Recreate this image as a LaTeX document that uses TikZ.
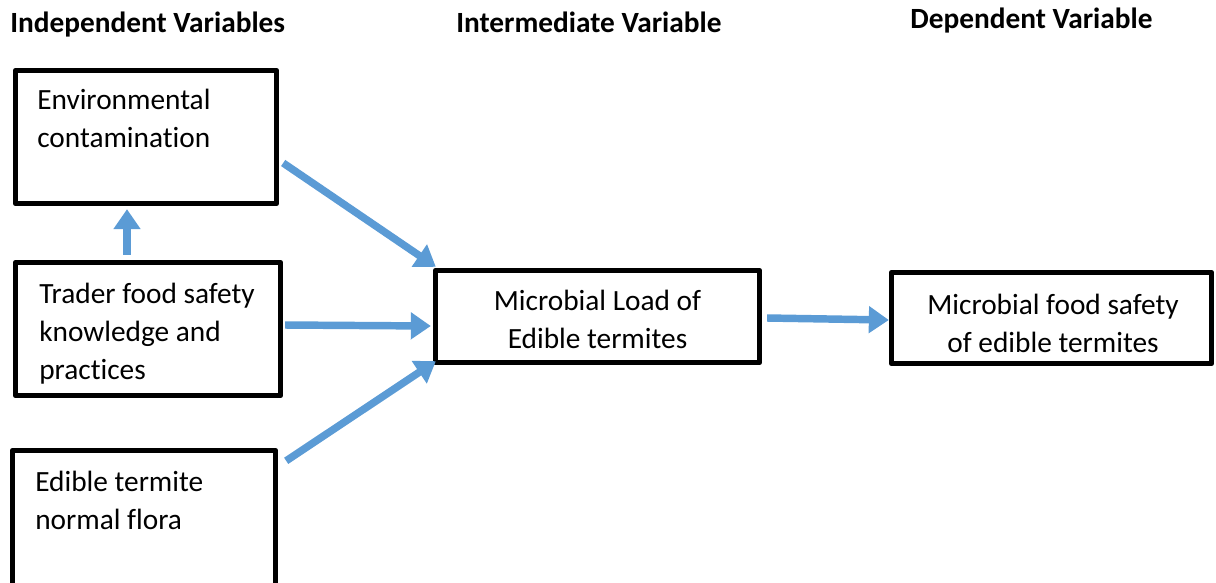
\documentclass[tikz,border=0pt]{standalone}
\usepackage{fontspec}
\setmainfont{Carlito}[Ligatures=NoCommon]
\usetikzlibrary{arrows.meta}
\definecolor{arrblue}{HTML}{5B9BD5}
\tikzset{
  box/.style={draw=black, line width=4pt, line join=round, rectangle, inner sep=0pt},
  txt/.style={inner sep=0pt, font=\fontsize{22}{28.5}\selectfont},
  head/.style={inner sep=0pt, font=\fontsize{22}{28.5}\selectfont\bfseries},
  arr/.style={draw=arrblue, line width=5.6pt, -{Triangle[length=15pt, width=19.5pt]}, fill=arrblue}
}
\begin{document}
\begin{tikzpicture}[x=0.75pt, y=-0.75pt]
\useasboundingbox (0,0) rectangle (1216,582);
\clip (0,0) rectangle (1216,582);
% headings
\node[head, anchor=base west] (h1) at (10,32) {Independent Variables};
\node[head, anchor=base west] (h2) at (456,32) {Intermediate Variable};
\node[head, anchor=base west] (h3) at (910,28) {Dependent Variable};
% boxes
\node[box, minimum width=195.75pt, minimum height=99.75pt] (b1) at (146,137) {};
\node[box, minimum width=198.75pt, minimum height=99.75pt] (b2) at (148,329) {};
\node[box, minimum width=197.25pt, minimum height=120pt] (b3) at (144,530.5) {};
\node[box, minimum width=243pt, minimum height=69pt] (b4) at (597.5,316.5) {};
\node[box, minimum width=240pt, minimum height=68.25pt] (b5) at (1051.5,318) {};
% box texts
\node[txt, anchor=base west] (t1a) at (37,109) {Environmental};
\node[txt, anchor=base west] (t1b) at (37,147) {contamination};
\node[txt, anchor=base west] (t2a) at (39,303) {Trader food safety};
\node[txt, anchor=base west] (t2b) at (39,341) {knowledge and};
\node[txt, anchor=base west] (t2c) at (39,379) {practices};
\node[txt, anchor=base west] (t3a) at (35,491) {Edible termite};
\node[txt, anchor=base west] (t3b) at (35,529) {normal flora};
\node[txt, anchor=base] (t4a) at (597.5,310) {Microbial Load of};
\node[txt, anchor=base] (t4b) at (597.5,348) {Edible termites};
\node[txt, anchor=base] (t5a) at (1053,314) {Microbial food safety};
\node[txt, anchor=base] (t5b) at (1053,352) {of edible termites};
% arrows
\draw[arr] ([shift={(-21,-5)}]b2.north) -- ([shift={(-19,3)}]b1.south);
\draw[arr] ([shift={(4,26)}]b1.east) -- ([shift={(3,-1)}]b4.north west);
\draw[arr] ([shift={(2,-4)}]b2.east) -- ([shift={(-2,9.5)}]b4.west);
\draw[arr] ([shift={(8,13)}]b3.north east) -- ([shift={(3,-4)}]b4.south west);
\draw[arr] ([shift={(5,1.5)}]b4.east) -- ([shift={(0,2)}]b5.west);
\end{tikzpicture}
\end{document}
